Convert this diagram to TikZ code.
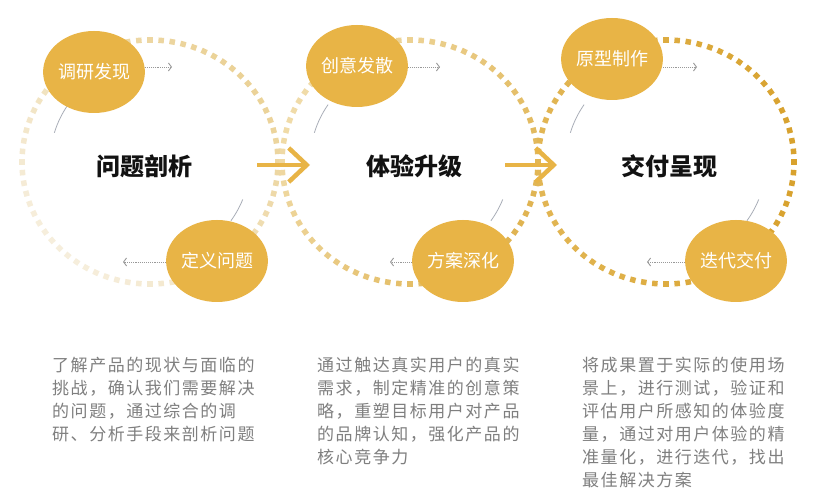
\documentclass[tikz,border=0pt]{standalone}
\usepackage{fontspec}
\setmainfont{Noto Sans CJK SC}
\newfontfamily\descfont{Noto Sans CJK SC}[LetterSpace=9]
\usetikzlibrary{positioning, calc, arrows.meta, shapes.geometric}
\definecolor{gold}{HTML}{E8B446}
\definecolor{paleA}{HTML}{F6EEDC}
\definecolor{darkA}{HTML}{EBD297}
\definecolor{paleB}{HTML}{F0DBA8}
\definecolor{darkB}{HTML}{E0B452}
\definecolor{paleC}{HTML}{E2B654}
\definecolor{darkC}{HTML}{D8A22E}
\definecolor{txtgray}{HTML}{7F7F7F}
\definecolor{arcgray}{HTML}{A9AEB8}

\begin{document}
\begin{tikzpicture}[x=1pt, y=1pt,
		sub/.style={ellipse, fill=gold, minimum width=98pt, minimum height=82pt, inner sep=0pt, text=white, font=\fontsize{18}{20}\selectfont},
		ttl/.style={font=\fontsize{24}{26}\selectfont\bfseries, text=black!93},
		desc/.style={anchor=north west, inner sep=0pt, align=left, text=txtgray, font=\descfont\fontsize{17}{23}\selectfont},
		sq/.style={rectangle, minimum size=5.5pt, inner sep=0pt},
		garc/.style={draw=arcgray, line width=0.8pt},
		sarr/.style={draw=gray!80, line width=0.9pt, densely dotted, -{Straight Barb[length=3pt, width=8pt, line width=0.9pt]}},
		barr/.style={draw=gold, line width=4.5pt, -{Straight Barb[length=18pt, width=34pt, line width=4.5pt]}}]
		\fill[white] (0,0) rectangle (814,500);
		\useasboundingbox (0,0) rectangle (814,500);
		\coordinate (c1) at (150,338); \coordinate (c2) at (410,338); \coordinate (c3) at (666,338);
		\foreach \c/\lo/\hi/\d in {c1/paleA/darkA/45, c2/paleB/darkB/-30, c3/paleC/darkC/0}
			\foreach \a in {0,5,...,355} {
				\pgfmathtruncatemacro\m{50+50*cos(\a-\d)}
				\colorlet{dotc}{\hi!\m!\lo}
				\node[sq, fill=dotc, rotate=\a] at ($(\c)+(\a:128pt and 122pt)$) {};
			}
		\foreach \c in {c1, c2, c3} {
			\draw[garc] ($(\c)+(145:100pt)$) arc[start angle=145, end angle=163, radius=100pt];
			\draw[garc] ($(\c)+(-22:100pt)$) arc[start angle=-22, end angle=-36, radius=100pt];
		}
		\coordinate (a1s) at (257,335); \coordinate (a1e) at (310,335); \draw[barr] (a1s) -- (a1e);
		\coordinate (a2s) at (505,335); \coordinate (a2e) at (557,335); \draw[barr] (a2s) -- (a2e);
		\node[sub] (t1) at (94,428) {调研发现}; \node[sub] (b1) at (217,239) {定义问题};
		\node[sub] (t2) at (357,434) {创意发散}; \node[sub] (b2) at (463,239) {方案深化};
		\node[sub] (t3) at (612,441) {原型制作}; \node[sub] (b3) at (736,239) {迭代交付};
		\coordinate (ta1) at (172,433); \draw[sarr] (t1.east |- ta1) -- (ta1);
		\coordinate (ta2) at (440,433); \draw[sarr] (t2.east |- ta2) -- (ta2);
		\coordinate (ta3) at (697,433); \draw[sarr] (t3.east |- ta3) -- (ta3);
		\coordinate (ba1) at (123,238); \draw[sarr] (b1.west |- ba1) -- (ba1);
		\coordinate (ba2) at (390,238); \draw[sarr] (b2.west |- ba2) -- (ba2);
		\coordinate (ba3) at (647,238); \draw[sarr] (b3.west |- ba3) -- (ba3);
		\node[ttl] (p1) at (144,334) {问题剖析};
		\node[ttl] (p2) at (414,334) {体验升级};
		\node[ttl] (p3) at (669,334) {交付呈现};
		\node[desc] (d1) at (52,143) {了解产品的现状与面临的\\挑战，确认我们需要解决\\的问题，通过综合的调\\研、分析手段来剖析问题};
		\node[desc] (d2) at (317,143) {通过触达真实用户的真实\\需求，制定精准的创意策\\略，重塑目标用户对产品\\的品牌认知，强化产品的\\核心竞争力};
		\node[desc] (d3) at (582,143) {将成果置于实际的使用场\\景上，进行测试，验证和\\评估用户所感知的体验度\\量，通过对用户体验的精\\准量化，进行迭代，找出\\最佳解决方案};
	\end{tikzpicture}
\end{document}
